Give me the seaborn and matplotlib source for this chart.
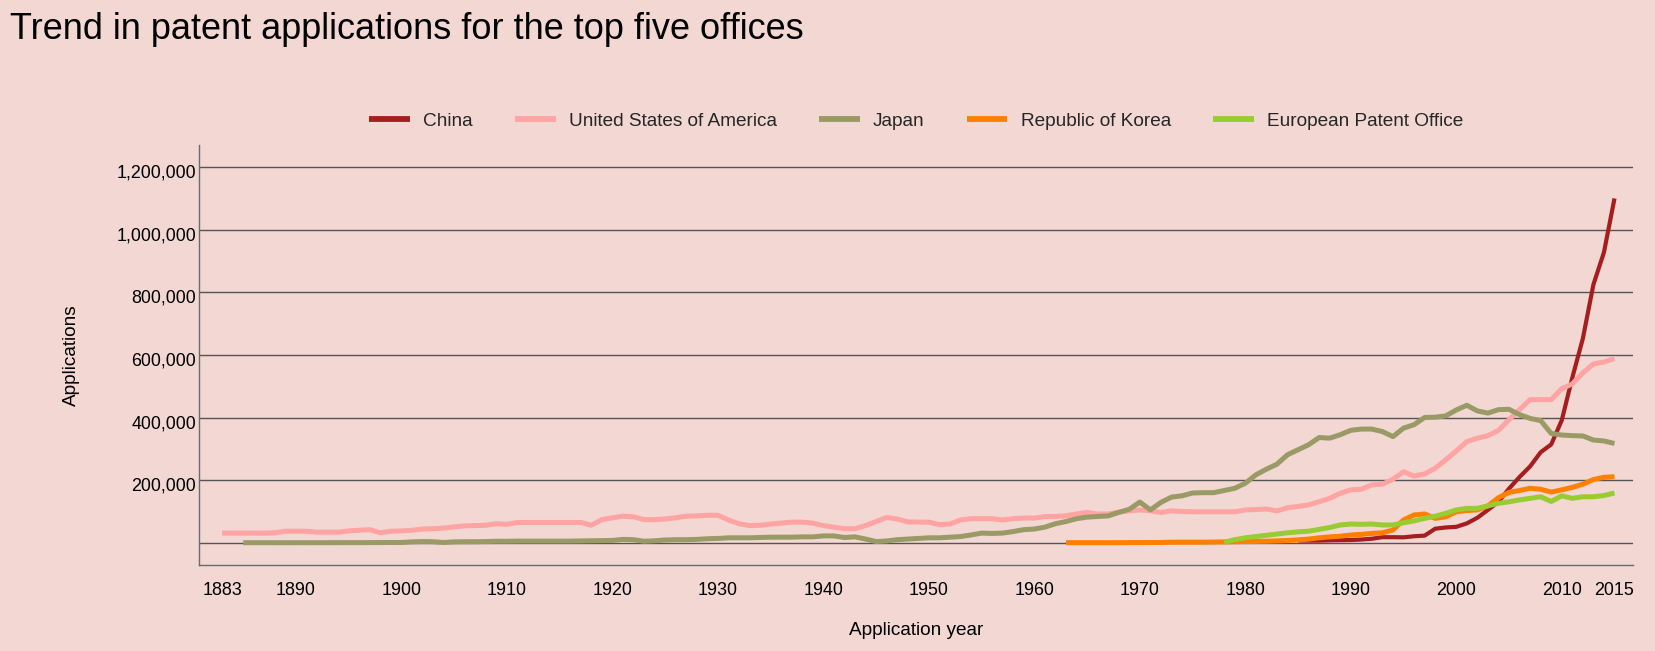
import pandas as pd
import matplotlib
matplotlib.use("Agg")
import matplotlib.pyplot as plt
import matplotlib.transforms as mtransforms
from matplotlib import font_manager
import seaborn as sns

# Patent applications by office
offices = ["China", "United States of America", "Japan", "Republic of Korea", "European Patent Office"]
colors = ["#a51d1f", "#ffa3a3", "#9a9a66", "#ff8000", "#99cc33"]

us_start = 1883
us_values = [
    32000, 32000, 32000, 32000, 32000, 33000, 38000, 38000, 38000, 35000,
    35000, 35000, 39000, 41000, 43000, 33000, 38000, 39000, 41000, 45000,
    46000, 48000, 52000, 55000, 56000, 57000, 62000, 60000, 66000, 66000,
    66000, 66000, 66000, 66000, 66000, 57000, 75000, 81000, 86000, 84000,
    75000, 75000, 77000, 81000, 86000, 87000, 89000, 89000, 74000, 62000,
    56000, 57000, 61000, 64000, 67000, 67000, 64000, 56000, 51000, 46000,
    46000, 56000, 69000, 82000, 77000, 68000, 67000, 67000, 59000, 61000,
    74000, 78000, 78000, 78000, 74000, 78000, 80000, 80000, 85000, 85000,
    87000, 93000, 98000, 93000, 93000, 99000, 103000, 106000, 103000, 98000,
    103000, 101000, 100000, 100000, 100000, 100000, 100000, 106000, 107000, 109000,
    103000, 113000, 117000, 122000, 132000, 143000, 159000, 170000, 172000, 186000,
    188000, 204000, 228000, 214000, 221000, 239000, 266000, 294000, 324000, 335000,
    343000, 360000, 394000, 426000, 458000, 458000, 458000, 493000, 508000, 543000,
    572000, 578000, 589000,
]

japan_start = 1885
japan_values = [
    1400, 1300, 1400, 1300, 1300, 1300, 1300, 1400, 1400, 1400,
    1400, 1600, 1800, 1800, 2000, 2000, 4000, 5000, 4500, 2000,
    4000, 4500, 4500, 5000, 6000, 6000, 6500, 6500, 6500, 6500,
    6500, 6500, 7000, 7500, 8000, 8600, 12000, 11000, 6000, 7500,
    10000, 11000, 11000, 12000, 14000, 15000, 17000, 17000, 17000, 18000,
    19000, 19000, 19000, 20000, 20000, 23000, 23000, 18000, 20000, 13000,
    5000, 7000, 11000, 13000, 15000, 17000, 17000, 19000, 21000, 26000,
    32000, 31000, 32000, 37000, 43000, 45000, 51000, 62000, 69000, 78000,
    83000, 85000, 87000, 98000, 108000, 131000, 106000, 130000, 147000, 151000,
    160000, 161000, 161000, 168000, 175000, 191000, 218000, 236000, 252000, 282000,
    298000, 314000, 337000, 335000, 346000, 360000, 364000, 364000, 356000, 340000,
    367000, 378000, 401000, 402000, 406000, 425000, 440000, 422000, 415000, 426000,
    427000, 410000, 398000, 391000, 350000, 345000, 343000, 342000, 329000, 326000,
    318000,
]

korea_start = 1963
korea_values = [
    1500, 1500, 1500, 1500, 1500, 1500, 1800, 1800, 2000, 2000,
    3000, 3000, 3000, 3000, 3500, 4000, 4500, 5000, 5500, 6000,
    7000, 8500, 10500, 13000, 17000, 20000, 22000, 26000, 28000, 31000,
    33000, 42000, 74000, 90000, 93000, 79000, 84000, 100000, 104000, 106000,
    119000, 145000, 162000, 168000, 175000, 172000, 163000, 170000, 178000, 188000,
    203000, 210000, 212000,
]

china_start = 1985
china_values = [
    8500, 8000, 8000, 9000, 9500, 10000, 11500, 14000, 19000, 19000,
    18500, 22000, 24000, 46000, 50000, 52000, 63000, 81000, 106000, 132000,
    174000, 211000, 245000, 290000, 315000, 392000, 528000, 653000, 825000, 928000,
    1100000,
]

epo_start = 1978
epo_values = [
    3000, 11000, 17000, 21000, 25000, 29000, 33000, 36000, 38000, 44000,
    50000, 58000, 61000, 60000, 61000, 58000, 58000, 65000, 71000, 79000,
    86000, 95000, 106000, 111000, 111000, 119000, 127000, 132000, 138000, 143000,
    148000, 133000, 151000, 143000, 148000, 148000, 152000, 160000,
]

x_ticks = [1883, 1890, 1900, 1910, 1920, 1930, 1940, 1950, 1960, 1970, 1980, 1990, 2000, 2010, 2015]
y_ticks = [0, 200000, 400000, 600000, 800000, 1000000, 1200000]

series = {
    "China": (china_start, china_values),
    "United States of America": (us_start, us_values),
    "Japan": (japan_start, japan_values),
    "Republic of Korea": (korea_start, korea_values),
    "European Patent Office": (epo_start, epo_values),
}
rows = []
for office, (start, vals) in series.items():
    for i, v in enumerate(vals):
        rows.append({"year": start + i, "applications": v, "office": office})
df = pd.DataFrame(rows)

bg = "#f2d7d3"
sns.set_theme(style="white", rc={"axes.facecolor": bg, "figure.facecolor": bg})

installed = {f.name for f in font_manager.fontManager.ttflist}
if "Liberation Sans Narrow" in installed:
    body_font = "Liberation Sans Narrow"
    k = 1.0
else:
    body_font = "Liberation Sans"
    k = 0.83
plt.rcParams["font.family"] = [body_font, "DejaVu Sans"]

fig = plt.figure(figsize=(16.55, 6.51), dpi=100)
ax = fig.add_axes([0.1202, 0.132, 0.8668, 0.645])

sns.lineplot(data=df, x="year", y="applications", hue="office", hue_order=offices,
             palette=colors, linewidth=3.6, ax=ax, legend=True)
for line in ax.lines:
    line.set_solid_capstyle("butt")
ax.lines[0].set_linewidth(3.0)

ax.set_xlim(1880.8, 2016.8)
ax.set_ylim(-70000, 1270000)
ax.set_xticks(x_ticks)
ax.set_xticklabels([str(t) for t in x_ticks])
ax.set_yticks(y_ticks)
ax.set_yticklabels([""] + [f"{t:,}" for t in y_ticks[1:]])

ax.yaxis.grid(True, color="#555555", linewidth=1.0)
ax.xaxis.grid(False)
ax.set_axisbelow(True)
for side in ["top", "right"]:
    ax.spines[side].set_visible(False)
for side in ["left", "bottom"]:
    ax.spines[side].set_color("#6b6b6b")
    ax.spines[side].set_linewidth(1.0)

ax.tick_params(axis="x", direction="inout", length=6.5, width=1, color="#6b6b6b",
               pad=9, labelsize=15.5 * k, labelcolor="black")
ax.tick_params(axis="y", length=0, pad=2, labelsize=15.5 * k, labelcolor="black")
offset = mtransforms.ScaledTranslation(0, -4 / 100, fig.dpi_scale_trans)
for lab in ax.get_yticklabels():
    lab.set_transform(lab.get_transform() + offset)

ax.set_xlabel("Application year", fontsize=16.5 * k, color="black")
ax.set_ylabel("Applications", fontsize=16.5 * k, color="black")
ax.xaxis.set_label_coords(0.5, -0.135)
ax.yaxis.set_label_coords(-0.083, 0.5)

handles, labels = ax.get_legend_handles_labels()
for h in handles:
    h.set_linewidth(4.2)
    h.set_solid_capstyle("butt")
ax.legend(handles, labels, loc="center", bbox_to_anchor=(0.5, 1.057), ncol=5,
          frameon=False, fontsize=16.5 * k, handlelength=2.1 / k * 0.85,
          handletextpad=0.7, columnspacing=2.2)

fig.text(0.006, 0.940, "Trend in patent applications for the top five offices",
         fontsize=26, family=["Liberation Sans", "DejaVu Sans"], color="black",
         ha="left", va="baseline")

fig.savefig("out.png", dpi=100, facecolor=bg)
